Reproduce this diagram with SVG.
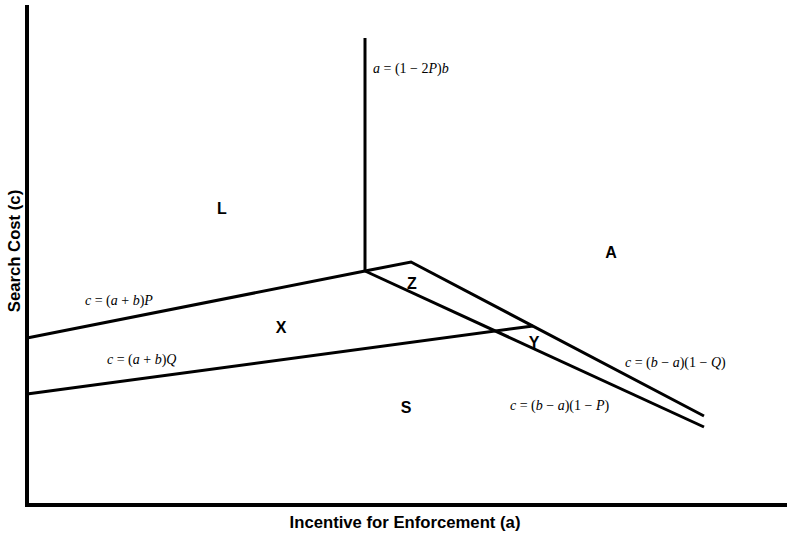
<svg xmlns="http://www.w3.org/2000/svg" width="787" height="536" viewBox="0 0 787 536">
<style>
.ln{stroke:#000;stroke-width:3;fill:none;stroke-linejoin:miter}
.ax{stroke:#000;stroke-width:4;fill:none}
.rg{font-family:"Liberation Sans",Arial,sans-serif;font-weight:bold;font-size:16px;fill:#000;text-anchor:middle}
.eq{font-family:"Liberation Serif","Times New Roman",serif;font-size:14px;fill:#000}
.eq .i{font-style:italic}
.al{font-family:"Liberation Sans",Arial,sans-serif;font-weight:bold;font-size:16.7px;fill:#000;text-anchor:middle}
</style>
<rect width="787" height="536" fill="#fff"/>
<g id="axes">
<polyline class="ax" points="27,5 27,505 787,505"/>
<text class="al" x="405" y="528">Incentive for Enforcement (a)</text>
<text class="al" transform="translate(20,251) rotate(-90)">Search Cost (c)</text>
</g>
<g id="connectors">
<line class="ln" x1="365" y1="38" x2="365" y2="271"/>
<polyline class="ln" points="27,338 365,271 411,262 704,416"/>
<line class="ln" x1="365" y1="271" x2="704" y2="427"/>
<line class="ln" x1="27" y1="394" x2="533" y2="326"/>
</g>
<g id="regions">
<g id="L"><text class="rg" x="222" y="214">L</text></g>
<g id="A"><text class="rg" x="611" y="258">A</text></g>
<g id="Z"><text class="rg" x="412" y="289">Z</text></g>
<g id="X"><text class="rg" x="281" y="333">X</text></g>
<g id="Y"><text class="rg" x="534" y="348">Y</text></g>
<g id="S"><text class="rg" x="406" y="413">S</text></g>
</g>
<g id="labels">
<text class="eq" x="373" y="73"><tspan class="i">a</tspan> = (1 − 2<tspan class="i">P</tspan>)<tspan class="i">b</tspan></text>
<text class="eq" x="85" y="305"><tspan class="i">c</tspan> = (<tspan class="i">a</tspan> + <tspan class="i">b</tspan>)<tspan class="i">P</tspan></text>
<text class="eq" x="107" y="364"><tspan class="i">c</tspan> = (<tspan class="i">a</tspan> + <tspan class="i">b</tspan>)<tspan class="i">Q</tspan></text>
<text class="eq" x="510" y="410"><tspan class="i">c</tspan> = (<tspan class="i">b</tspan> − <tspan class="i">a</tspan>)(1 − <tspan class="i">P</tspan>)</text>
<text class="eq" x="625" y="367"><tspan class="i">c</tspan> = (<tspan class="i">b</tspan> − <tspan class="i">a</tspan>)(1 − <tspan class="i">Q</tspan>)</text>
</g>
</svg>
